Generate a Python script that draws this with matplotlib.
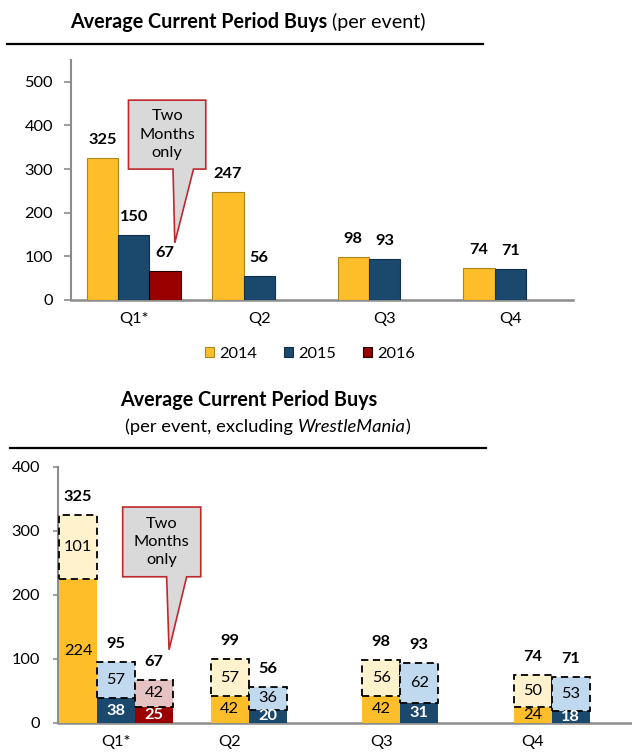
import numpy as np
import matplotlib.pyplot as plt
from matplotlib.patches import Polygon
from matplotlib.lines import Line2D

plt.rcParams['font.family'] = ['Lato', 'DejaVu Sans']

quarters = ['Q1*', 'Q2', 'Q3', 'Q4']
years = ['2014', '2015', '2016']

# top chart - average current period buys per event
buys_2014 = [325, 247, 98, 74]
buys_2015 = [150, 56, 93, 71]
buys_2016 = [67, None, None, None]

# bottom chart - excluding WrestleMania (solid part + dashed part on top)
base_2014 = [224, 42, 42, 24]
extra_2014 = [101, 57, 56, 50]
base_2015 = [38, 20, 31, 18]
extra_2015 = [57, 36, 62, 53]
base_2016 = [25, None, None, None]
extra_2016 = [42, None, None, None]

callout_text = 'Two\nMonths\nonly'

YELLOW = '#FDBE2A'
NAVY = '#1B486D'
RED = '#990000'
LT_YELLOW = '#FFF2CC'
LT_BLUE = '#C0D9EF'
LT_RED = '#E6C3C3'
AXIS_GRAY = '#8C8C8C'
W = 0.25

fig = plt.figure(figsize=(6.32, 7.56), dpi=100)
renderer = fig.canvas.get_renderer()


def fit_size(s, target_px, **kw):
    # font size that makes s about target_px wide (reference uses Calibri)
    t = fig.text(0, 0, s, fontsize=10, **kw)
    w = t.get_window_extent(renderer).width
    t.remove()
    return 10 * target_px / w


FS = fit_size('500', 28.5)
FS_B = fit_size('325', 28.5, fontweight='bold')
FS_T = fit_size('Average Current Period Buys', 258, fontweight='bold')
FS_T2 = fit_size('(per event, excluding WrestleMania)', 292)


def pieces_text(pieces, x0, y, size):
    # lay out text runs of different style one after another (figure pixels)
    x = x0
    for s, kw in pieces:
        t = fig.text(x / 632, 1 - y / 756, s, fontsize=size, va='center', ha='left', **kw)
        x += t.get_window_extent(renderer).width


def rule(y, x0, x1):
    fig.add_artist(Line2D([x0 / 632, x1 / 632], [1 - y / 756, 1 - y / 756],
                          transform=fig.transFigure, color='black', lw=1.6))


def callout(ax, box, base, tip):
    x0, x1, yb, yt = box
    pts = [(x0, yt), (x1, yt), (x1, yb), (base[1], yb), tip, (base[0], yb), (x0, yb)]
    ax.add_patch(Polygon(pts, closed=True, facecolor='#D9D9D9', edgecolor='#C0282D',
                         lw=1.2, zorder=5, clip_on=False))
    ax.text((x0 + x1) / 2, (yb + yt) / 2, callout_text, ha='center', va='center',
            fontsize=FS, linespacing=1.4, zorder=6)


def style_axes(ax, ticklen, pad):
    for s in ['top', 'right']:
        ax.spines[s].set_visible(False)
    ax.spines['left'].set_color(AXIS_GRAY)
    ax.spines['left'].set_linewidth(1.5)
    ax.spines['bottom'].set_color(AXIS_GRAY)
    ax.spines['bottom'].set_linewidth(1.8)
    ax.tick_params(axis='y', length=ticklen, width=1.2, color=AXIS_GRAY, pad=pad, labelsize=FS)
    ax.tick_params(axis='x', length=0, pad=9, labelsize=FS)


# ---------- titles ----------
pieces_text([('Average Current Period Buys', dict(fontweight='bold')),
             (' (per event)', {})], 70, 22, FS_T)
rule(44, 7, 483)

pieces_text([('Average Current Period Buys', dict(fontweight='bold'))], 120, 400, FS_T)
pieces_text([('(per event, excluding ', {}), ('WrestleMania', dict(style='italic')),
             (')', {})], 125, 427, FS_T2)
rule(448, 10, 486)

# ---------- top chart ----------
ax1 = fig.add_axes([71 / 632, 1 - 300 / 756, 502 / 632, 240 / 756])
x = np.arange(len(quarters))
series = [(buys_2014, YELLOW, '#A8871C'), (buys_2015, NAVY, '#10304A'), (buys_2016, RED, '#200000')]
for i, (vals, col, ec) in enumerate(series):
    xs = [xi + (i - 1) * W for xi, v in zip(x, vals) if v is not None]
    vs = [v for v in vals if v is not None]
    ax1.bar(xs, vs, W, color=col, edgecolor=ec, lw=0.8, label=years[i], zorder=3)
    for xi, v in zip(xs, vs):
        ax1.annotate(str(v), (xi, v), xytext=(0, 18), textcoords='offset pixels',
                     ha='center', va='center', fontsize=FS_B, fontweight='bold')
ax1.set_xlim(-0.5, 3.5)
ax1.set_ylim(0, 550)
ax1.set_yticks(range(0, 501, 100))
ax1.set_xticks(x)
ax1.set_xticklabels(quarters)
style_axes(ax1, 5, 8)
callout(ax1, (-0.042, 0.574, 300, 458), (0.313, 0.476), (0.327, 131))
ax1.legend(loc='center', bbox_to_anchor=(310 / 632, 1 - 354 / 756), bbox_transform=fig.transFigure,
           ncol=3, frameon=False, fontsize=FS, handlelength=0.55, handleheight=0.55,
           handletextpad=0.35, columnspacing=1.6)

# ---------- bottom chart ----------
ax2 = fig.add_axes([57.5 / 632, 1 - 722.7 / 756, 574.5 / 632, 256 / 756])
stacks = [(base_2014, extra_2014, YELLOW, LT_YELLOW, 'black', 'normal'),
          (base_2015, extra_2015, NAVY, LT_BLUE, 'white', 'bold'),
          (base_2016, extra_2016, RED, LT_RED, 'white', 'bold')]
for i, (base, extra, col, lt, tcol, tw) in enumerate(stacks):
    for xi, b, e in zip(x, base, extra):
        if b is None:
            continue
        xp = xi + (i - 1) * W
        ax2.bar(xp, b, W, color=col, lw=0, zorder=3)
        ax2.bar(xp, e, W, bottom=b, color=lt, edgecolor='black', lw=1.3,
                linestyle=(0, (4, 2.5)), zorder=4)
        ax2.text(xp, b / 2, str(b), ha='center', va='center', fontsize=FS,
                 color=tcol, fontweight=tw, zorder=6)
        ax2.text(xp, b + e / 2, str(e), ha='center', va='center', fontsize=FS, zorder=6)
        ax2.annotate(str(b + e), (xp, b + e), xytext=(0, 18), textcoords='offset pixels',
                     ha='center', va='center', fontsize=FS_B, fontweight='bold')
ax2.set_xlim(-0.386, 3.404)
ax2.set_ylim(0, 400)
ax2.set_yticks(range(0, 401, 100))
ax2.set_xticks([0, 0.75, 1.75, 2.75])
ax2.set_xticklabels(quarters)
style_axes(ax2, 3.6, 9)
callout(ax2, (0.044, 0.559, 228, 337), (0.334, 0.466), (0.35, 114))

fig.savefig('out.png', dpi=100, facecolor='white')
